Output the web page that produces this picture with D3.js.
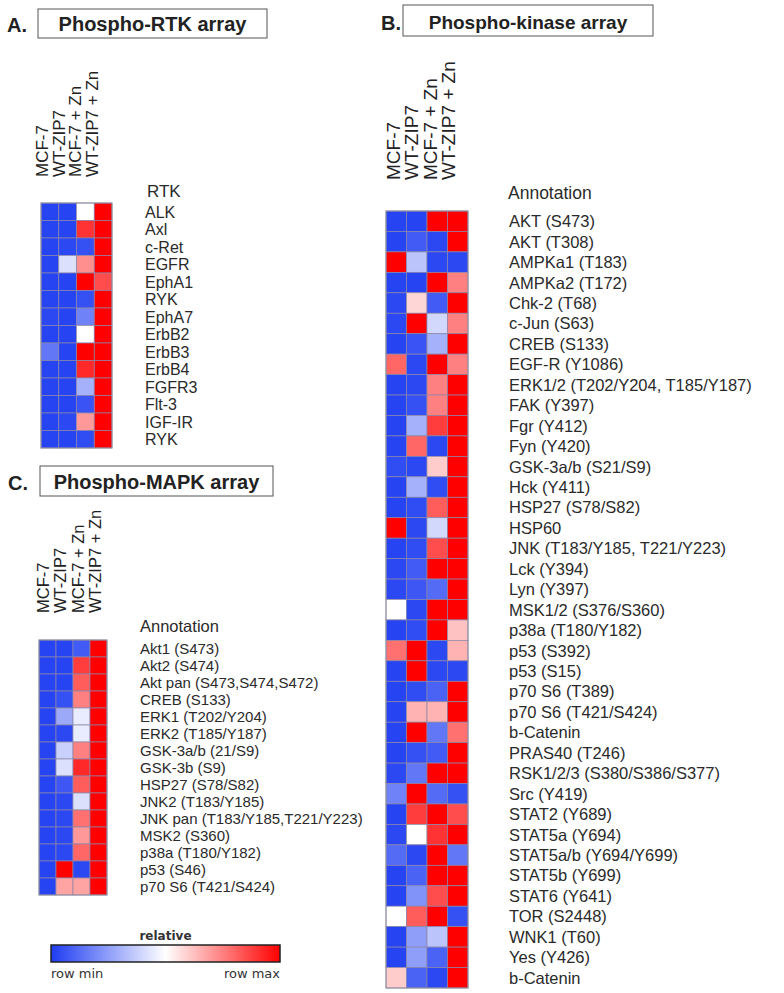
<!DOCTYPE html>
<html>
<head>
<meta charset="utf-8">
<script src="https://cdn.jsdelivr.net/npm/d3@7"></script>
<style>
  body { margin: 0; background: #fff; }
  text { font-family: "Liberation Sans", Arial, sans-serif; fill: #222; }
</style>
</head>
<body>
<svg id="chart" width="784" height="993"></svg>
<script>
'use strict';

// column headers, shared by all three arrays
var samples = ['MCF-7', 'WT-ZIP7', 'MCF-7 + Zn', 'WT-ZIP7 + Zn'];

// A. phospho-RTK array (0 = row min, 1 = row max)
var rtkNames = ['ALK', 'Axl', 'c-Ret', 'EGFR', 'EphA1', 'RYK', 'EphA7', 'ErbB2',
  'ErbB3', 'ErbB4', 'FGFR3', 'Flt-3', 'IGF-IR', 'RYK'];
var rtkValues = [
  [0.02, 0.02, 0.50, 1.00],
  [0.02, 0.02, 0.90, 1.00],
  [0.02, 0.03, 0.05, 1.00],
  [0.02, 0.42, 0.72, 1.00],
  [0.02, 0.02, 1.00, 0.85],
  [0.02, 0.02, 0.05, 1.00],
  [0.03, 0.02, 0.18, 1.00],
  [0.02, 0.02, 0.50, 1.00],
  [0.15, 0.02, 1.00, 1.00],
  [0.02, 0.02, 0.92, 1.00],
  [0.02, 0.02, 0.30, 1.00],
  [0.02, 0.02, 0.06, 1.00],
  [0.02, 0.03, 0.70, 1.00],
  [0.02, 0.02, 0.04, 1.00]
];

// B. phospho-kinase array
var kinaseNames = ['AKT (S473)', 'AKT (T308)', 'AMPKa1 (T183)', 'AMPKa2 (T172)',
  'Chk-2 (T68)', 'c-Jun (S63)', 'CREB (S133)', 'EGF-R (Y1086)',
  'ERK1/2 (T202/Y204, T185/Y187)', 'FAK (Y397)', 'Fgr (Y412)', 'Fyn (Y420)',
  'GSK-3a/b (S21/S9)', 'Hck (Y411)', 'HSP27 (S78/S82)', 'HSP60',
  'JNK (T183/Y185, T221/Y223)', 'Lck (Y394)', 'Lyn (Y397)', 'MSK1/2 (S376/S360)',
  'p38a (T180/Y182)', 'p53 (S392)', 'p53 (S15)', 'p70 S6 (T389)',
  'p70 S6 (T421/S424)', 'b-Catenin', 'PRAS40 (T246)', 'RSK1/2/3 (S380/S386/S377)',
  'Src (Y419)', 'STAT2 (Y689)', 'STAT5a (Y694)', 'STAT5a/b (Y694/Y699)',
  'STAT5b (Y699)', 'STAT6 (Y641)', 'TOR (S2448)', 'WNK1 (T60)', 'Yes (Y426)', 'b-Catenin'];
var kinaseValues = [
  [0.02, 0.02, 1.00, 1.00],
  [0.02, 0.08, 0.03, 1.00],
  [1.00, 0.35, 0.03, 0.03],
  [0.02, 0.02, 1.00, 0.75],
  [0.03, 0.58, 0.08, 1.00],
  [0.03, 1.00, 0.40, 0.75],
  [0.02, 0.06, 0.30, 1.00],
  [0.80, 0.03, 1.00, 0.75],
  [0.02, 0.03, 0.75, 1.00],
  [0.02, 0.05, 0.75, 1.00],
  [0.02, 0.30, 0.88, 1.00],
  [0.02, 0.80, 0.03, 1.00],
  [0.04, 0.03, 0.60, 1.00],
  [0.02, 0.30, 0.04, 1.00],
  [0.02, 0.04, 0.82, 1.00],
  [1.00, 0.03, 0.40, 1.00],
  [0.02, 0.04, 0.85, 1.00],
  [0.03, 0.08, 1.00, 1.00],
  [0.03, 0.07, 0.12, 1.00],
  [0.50, 0.03, 1.00, 1.00],
  [0.02, 0.04, 1.00, 0.62],
  [0.78, 1.00, 0.03, 0.65],
  [0.02, 1.00, 0.03, 0.03],
  [0.02, 0.04, 0.10, 1.00],
  [0.02, 0.65, 0.65, 1.00],
  [0.02, 1.00, 0.15, 0.78],
  [0.02, 0.05, 0.08, 1.00],
  [0.03, 0.15, 1.00, 1.00],
  [0.18, 1.00, 0.12, 0.05],
  [0.02, 0.88, 1.00, 0.85],
  [0.03, 0.50, 0.90, 1.00],
  [0.12, 0.03, 1.00, 0.15],
  [0.02, 0.10, 1.00, 1.00],
  [0.02, 0.22, 0.85, 1.00],
  [0.50, 0.82, 1.00, 0.05],
  [0.02, 0.25, 0.35, 1.00],
  [0.02, 0.25, 0.10, 1.00],
  [0.60, 0.10, 0.03, 1.00]
];

// C. phospho-MAPK array
var mapkNames = ['Akt1 (S473)', 'Akt2 (S474)', 'Akt pan (S473,S474,S472)', 'CREB (S133)',
  'ERK1 (T202/Y204)', 'ERK2 (T185/Y187)', 'GSK-3a/b (21/S9)', 'GSK-3b (S9)',
  'HSP27 (S78/S82)', 'JNK2 (T183/Y185)', 'JNK pan (T183/Y185,T221/Y223)', 'MSK2 (S360)',
  'p38a (T180/Y182)', 'p53 (S46)', 'p70 S6 (T421/S424)'];
var mapkValues = [
  [0.02, 0.02, 0.08, 1.00],
  [0.02, 0.02, 0.88, 1.00],
  [0.02, 0.02, 0.82, 1.00],
  [0.02, 0.05, 0.75, 1.00],
  [0.02, 0.28, 0.45, 1.00],
  [0.02, 0.03, 0.45, 1.00],
  [0.02, 0.38, 0.75, 1.00],
  [0.02, 0.42, 0.92, 1.00],
  [0.02, 0.07, 0.82, 1.00],
  [0.02, 0.03, 0.42, 1.00],
  [0.02, 0.03, 0.78, 1.00],
  [0.02, 0.03, 0.70, 1.00],
  [0.02, 0.03, 0.80, 1.00],
  [0.02, 1.00, 0.03, 1.00],
  [0.02, 0.68, 0.68, 1.00]
];

var legendStops = [0, 0.25, 0.5, 0.75, 1];

var svg = d3.select('#chart');
var color = d3.scaleLinear().domain([0, 0.5, 1])
  .range(['#1e3cf2', '#ffffff', '#ff0000']);

// title box with panel letter
function titleBox(letter, title, lx, x, y, w, h, size) {
  svg.append('text').attr('x', lx).attr('y', y + h - 6)
    .style('font-weight', 'bold').style('font-size', '20px').text(letter);
  svg.append('rect').attr('x', x).attr('y', y).attr('width', w).attr('height', h)
    .style('fill', 'none').style('stroke', '#555').style('stroke-width', 1);
  svg.append('text').attr('x', x + w / 2).attr('y', y + h - 7)
    .attr('text-anchor', 'middle')
    .style('font-weight', 'bold').style('font-size', size + 'px').text(title);
}

function heatmap(p) {
  var g = svg.append('g');
  var x = d3.scaleBand().domain(samples).range([p.x0, p.x1]);
  var y = d3.scaleBand().domain(d3.range(p.names.length)).range([p.y0, p.y1]);
  var hx = d3.scalePoint().domain(samples).range(p.head);

  g.selectAll('.hdr').data(samples).enter().append('text')
    .attr('transform', function (d) { return 'translate(' + hx(d) + ',' + p.headBottom + ') rotate(-90)'; })
    .style('font-size', p.headSize + 'px').text(function (d) { return d; });

  g.append('text').attr('x', p.annX).attr('y', p.annY)
    .style('font-size', p.annSize + 'px').style('fill', '#2a2a2a').text(p.annotation);

  p.values.forEach(function (row, i) {
    g.selectAll(null).data(row).enter().append('rect')
      .attr('x', function (d, j) { return x(samples[j]); })
      .attr('y', y(i))
      .attr('width', x.bandwidth()).attr('height', y.bandwidth())
      .style('fill', function (d) { return color(d); })
      .style('stroke', '#8a86a8').style('stroke-width', 0.7);
  });
  g.append('rect').attr('x', p.x0).attr('y', p.y0)
    .attr('width', p.x1 - p.x0).attr('height', p.y1 - p.y0)
    .style('fill', 'none').style('stroke', '#8f8f9f').style('stroke-width', 1);

  g.selectAll('.lbl').data(p.names).enter().append('text')
    .attr('x', p.labelX)
    .attr('y', function (d, i) { return y(i) + y.bandwidth() / 2; })
    .attr('dy', '0.36em')
    .style('font-size', p.labelSize + 'px').style('fill', '#2a2a2a')
    .text(function (d) { return d; });
}

titleBox('A.', 'Phospho-RTK array', 7, 38, 9, 229, 29, 20);
titleBox('B.', 'Phospho-kinase array', 381, 403, 5, 250, 31, 19);
titleBox('C.', 'Phospho-MAPK array', 8, 40, 466, 233, 30, 20);

heatmap({
  names: rtkNames, values: rtkValues,
  x0: 41, x1: 112, y0: 203, y1: 448,
  head: [48, 98], headBottom: 177, headSize: 17,
  annotation: 'RTK', annX: 147, annY: 197, annSize: 17,
  labelX: 145, labelSize: 16
});

heatmap({
  names: kinaseNames, values: kinaseValues,
  x0: 386, x1: 468, y0: 211, y1: 988,
  head: [400, 455], headBottom: 180, headSize: 19,
  annotation: 'Annotation', annX: 508, annY: 199, annSize: 17.5,
  labelX: 509, labelSize: 16.5
});

heatmap({
  names: mapkNames, values: mapkValues,
  x0: 39, x1: 107, y0: 640, y1: 895,
  head: [49, 101], headBottom: 613, headSize: 16.5,
  annotation: 'Annotation', annX: 140, annY: 632, annSize: 16.5,
  labelX: 140, labelSize: 15
});

// colour legend
var grad = svg.append('defs').append('linearGradient').attr('id', 'rel');
grad.selectAll('stop').data(legendStops).enter().append('stop')
  .attr('offset', function (d) { return d * 100 + '%'; })
  .attr('stop-color', function (d) { return color(d); });
var lx = d3.scaleLinear().domain([0, 1]).range([51, 280]);
svg.append('rect').attr('x', lx(0)).attr('y', 945)
  .attr('width', lx(1) - lx(0)).attr('height', 17)
  .style('fill', 'url(#rel)').style('stroke', '#222').style('stroke-width', 1.5);
svg.append('text').attr('x', (lx(0) + lx(1)) / 2).attr('y', 940)
  .attr('text-anchor', 'middle')
  .style('font-family', 'DejaVu Sans').style('font-weight', 'bold')
  .style('font-size', '12px').style('fill', '#333').text('relative');
svg.append('text').attr('x', lx(0)).attr('y', 978)
  .style('font-family', 'DejaVu Sans').style('font-size', '13px')
  .style('fill', '#333').text('row min');
svg.append('text').attr('x', lx(1)).attr('y', 978).attr('text-anchor', 'end')
  .style('font-family', 'DejaVu Sans').style('font-size', '13px')
  .style('fill', '#333').text('row max');
</script>
</body>
</html>
